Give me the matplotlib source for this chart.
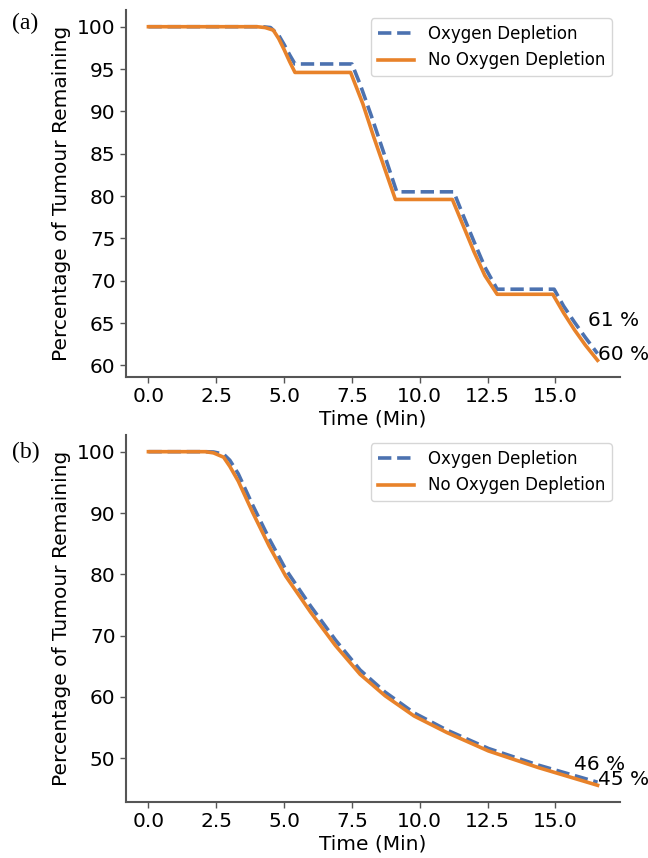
import matplotlib
matplotlib.use("Agg")
import matplotlib.pyplot as plt

# Panel (a): fractionated delivery
t_a_oxy = [0, 4.2, 4.5, 4.8, 5.0, 5.2, 5.4, 7.5, 7.8, 8.2, 8.6, 9.15,
           11.25, 11.6, 12.0, 12.4, 12.85, 14.95, 15.3, 15.7, 16.1, 16.55]
y_a_oxy = [100, 100, 99.9, 99.0, 97.9, 96.7, 95.6, 95.6, 93.2, 89.6, 85.8, 80.5,
           80.5, 77.7, 74.6, 71.6, 69.0, 69.0, 67.0, 65.1, 63.3, 61.4]
t_a_no = [0, 4.0, 4.3, 4.6, 4.8, 5.0, 5.2, 5.4, 7.45, 7.9, 8.3, 8.7, 9.1,
          11.2, 11.6, 12.0, 12.4, 12.85, 14.9, 15.3, 15.7, 16.1, 16.55]
y_a_no = [100, 100, 99.9, 99.6, 98.6, 97.3, 95.9, 94.6, 94.6, 90.9, 87.0, 83.3, 79.6,
          79.6, 76.5, 73.4, 70.6, 68.4, 68.4, 66.2, 64.2, 62.4, 60.6]

# Panel (b): continuous delivery
t_b = [0, 2.1, 2.4, 2.77, 3.0, 3.31, 3.84, 4.45, 5.06, 5.98, 6.89, 7.8, 8.72,
       9.79, 11.0, 12.53, 14.36, 16.55]
y_b_oxy = [100, 100, 99.95, 99.6, 98.6, 96.4, 91.3, 85.8, 80.8, 74.8, 69.3, 64.4, 60.8,
           57.4, 54.6, 51.6, 48.9, 46.1]
y_b_no = [100, 100, 99.8, 99.1, 97.6, 95.2, 90.1, 84.6, 79.7, 73.8, 68.4, 63.7, 60.2,
          56.9, 54.2, 51.2, 48.5, 45.6]

labels_a = ['61 %', '60 %']
labels_b = ['46 %', '45 %']

blue = '#4C72B0'
orange = '#E8822A'
grey = '#555555'

fig = plt.figure(figsize=(6.48, 8.58), dpi=100)
ax_a = fig.add_axes([0.1944, 0.5606, 0.7624, 0.4277])
ax_b = fig.add_axes([0.1944, 0.0653, 0.7624, 0.4277])

panels = [
    (ax_a, t_a_oxy, y_a_oxy, t_a_no, y_a_no, labels_a, (16.2, 64.6)),
    (ax_b, t_b, y_b_oxy, t_b, y_b_no, labels_b, (15.67, 48.05)),
]

for ax, tx, yx, tn, yn, labs, pos_oxy in panels:
    ax.plot(tx, yx, '--', color=blue, lw=2.6, label='Oxygen Depletion')
    ax.plot(tn, yn, '-', color=orange, lw=2.6, label='No Oxygen Depletion')
    # end-point annotations
    ax.text(pos_oxy[0], pos_oxy[1], labs[0], fontsize=14.5)
    ax.text(tn[-1], yn[-1], labs[1], fontsize=14.5)
    ax.set_xlabel('Time (Min)', fontsize=14.5, labelpad=2)
    ax.set_ylabel('Percentage of Tumour Remaining', fontsize=14.5, labelpad=4)
    ax.set_xticks([0, 2.5, 5, 7.5, 10, 12.5, 15])
    ax.tick_params(labelsize=14.5, color=grey, length=4, width=1)
    ax.spines['top'].set_visible(False)
    ax.spines['right'].set_visible(False)
    for s in ('left', 'bottom'):
        ax.spines[s].set_color(grey)
        ax.spines[s].set_linewidth(1.5)
    ax.legend(loc='upper right', fontsize=12, handlelength=2.2)

ax_a.set_yticks([60, 65, 70, 75, 80, 85, 90, 95, 100])
ax_b.set_yticks([50, 60, 70, 80, 90, 100])

fig.text(0.018, 0.973, '(a)', family='Liberation Serif', fontsize=17, va='center')
fig.text(0.018, 0.473, '(b)', family='Liberation Serif', fontsize=17, va='center')

fig.savefig('out.png', dpi=100)
plt.close(fig)
